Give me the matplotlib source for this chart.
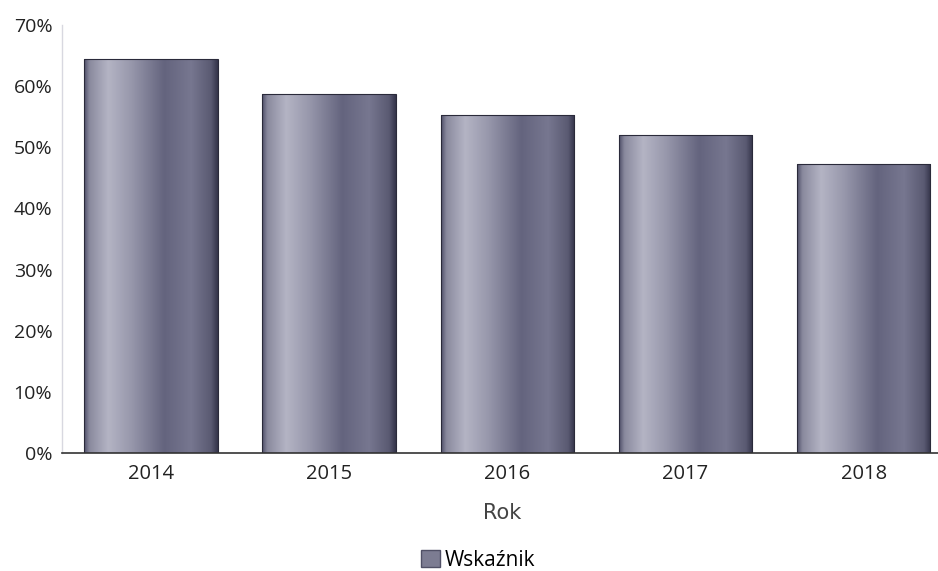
import numpy as np
import matplotlib
matplotlib.use("Agg")
import matplotlib.pyplot as plt
from matplotlib.colors import LinearSegmentedColormap
from matplotlib.patches import Patch

years = ["2014", "2015", "2016", "2017", "2018"]
values = [64.4, 58.7, 55.2, 52.0, 47.3]
yticks = [0, 10, 20, 30, 40, 50, 60, 70]
series_name = "Wskaźnik"
xlabel = "Rok"

plt.rcParams['font.family'] = ['Open Sans', 'DejaVu Sans']

fig = plt.figure(figsize=(9.38, 5.71), dpi=100)
ax = fig.add_axes([62/938, 1 - 453/571, 1 - 62/938 + 0.01, (453 - 25)/571])

cmap = LinearSegmentedColormap.from_list("cyl", [
    (0.00, "#50506a"),
    (0.04, "#8a8a9e"),
    (0.18, "#b4b4c4"),
    (0.35, "#9898ac"),
    (0.60, "#64647e"),
    (0.80, "#777790"),
    (0.95, "#5a5a72"),
    (1.00, "#34344a"),
])

bw = 0.75
bars = ax.bar(range(len(years)), values, width=bw, color="none",
              edgecolor="#2a2a3a", linewidth=0.8, zorder=2)
grad = np.linspace(0, 1, 256).reshape(1, -1)
for b in bars:
    x0, y0 = b.get_x(), b.get_y()
    w, h = b.get_width(), b.get_height()
    im = ax.imshow(grad, cmap=cmap, aspect="auto",
                   extent=[x0, x0 + w, y0, y0 + h], zorder=1,
                   interpolation="bicubic")
    im.set_clip_path(b)

ax.set_xlim(-0.5, 4.47)
ax.set_ylim(0, 70)
ax.set_yticks(yticks)
ax.set_yticklabels([f"{t}%" for t in yticks])
ax.set_xticks(range(len(years)))
ax.set_xticklabels(years)
ax.tick_params(axis="both", length=0, colors="#222222")
ax.tick_params(axis="x", pad=8, labelsize=14.5)
ax.tick_params(axis="y", pad=7, labelsize=14)

for s in ["top", "right"]:
    ax.spines[s].set_visible(False)
ax.spines["left"].set_color("#d8d8e0")
ax.spines["left"].set_linewidth(1.0)
ax.spines["bottom"].set_color("#333333")
ax.spines["bottom"].set_linewidth(1.2)

ax.set_xlabel(xlabel, fontsize=15, color="#444444",
              family=["DejaVu Sans"], va="center")
ax.xaxis.set_label_coords((502 - 62) / (938 - 62 + 9.4), -(513 - 453) / 428)

handle = Patch(facecolor="#7c7c92", edgecolor="#505066", label=series_name)
fig.legend(handles=[handle], loc="center", bbox_to_anchor=(478/938, 1 - 560/571),
           frameon=False, fontsize=15, handlelength=0.9, handleheight=0.9,
           handletextpad=0.25, borderpad=0)

fig.savefig("out.png", dpi=100, facecolor="white")
